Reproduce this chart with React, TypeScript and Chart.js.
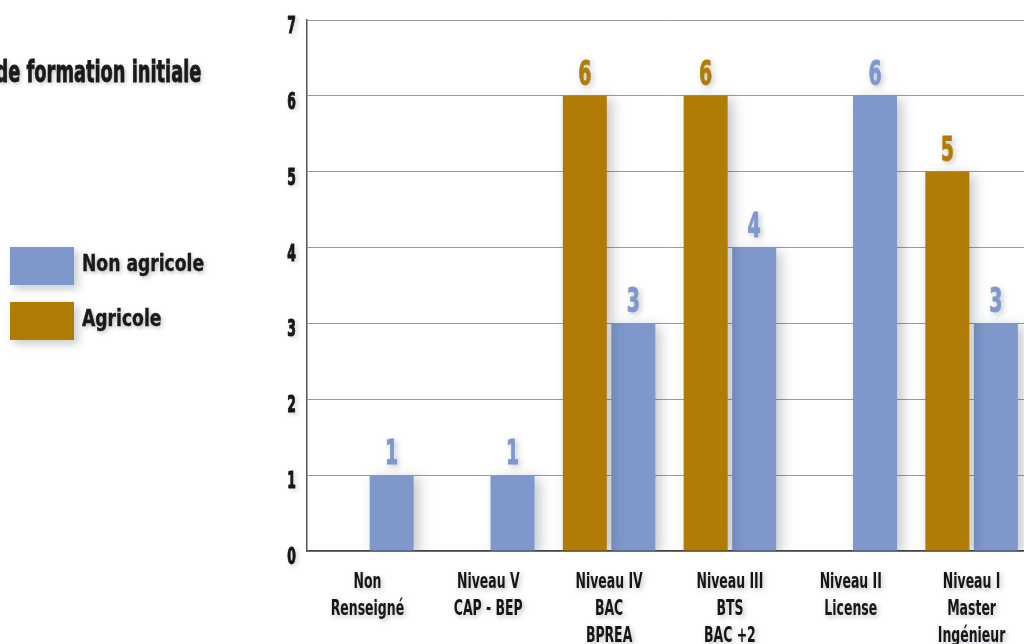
import React, { useEffect, useRef } from "react";
import { Chart, registerables } from "chart.js";

Chart.register(...registerables);

const categories: string[][] = [
  ["Non", "Renseigné"],
  ["Niveau V", "CAP - BEP"],
  ["Niveau IV", "BAC", "BPREA"],
  ["Niveau III", "BTS", "BAC +2"],
  ["Niveau II", "License"],
  ["Niveau I", "Master", "Ingénieur"],
];
const agricole: number[] = [0, 0, 6, 6, 0, 5];
const nonAgricole: number[] = [1, 1, 3, 4, 6, 3];
const yTicks: number[] = [0, 1, 2, 3, 4, 5, 6, 7];

const BLUE = "#7f98cb";
const GOLD = "#b07c06";
const FONT = "'DejaVu Sans Condensed', 'DejaVu Sans', sans-serif";

function squeezeText(ctx: CanvasRenderingContext2D, text: string, x: number, y: number, sx: number, stroke = 0) {
  ctx.save();
  ctx.translate(x, y);
  ctx.scale(sx, 1);
  ctx.fillText(text, 0, 0);
  if (stroke > 0) {
    ctx.shadowColor = "transparent";
    ctx.lineWidth = stroke;
    ctx.lineJoin = "round";
    ctx.strokeStyle = ctx.fillStyle as string;
    ctx.strokeText(text, 0, 0);
  }
  ctx.restore();
}

const barExtras = {
  id: "barExtras",
  beforeDatasetsDraw(chart: any) {
    const ctx = chart.ctx;
    ctx.save();
    ctx.shadowColor = "rgba(40,50,70,0.28)";
    ctx.shadowBlur = 12;
    ctx.shadowOffsetX = 5;
    ctx.shadowOffsetY = 3;
  },
  afterDatasetsDraw(chart: any) {
    const ctx: CanvasRenderingContext2D = chart.ctx;
    ctx.restore();
    ctx.save();
    ctx.font = `bold 34px ${FONT}`;
    ctx.textAlign = "center";
    ctx.textBaseline = "alphabetic";
    ctx.shadowColor = "rgba(40,50,70,0.35)";
    ctx.shadowBlur = 6;
    ctx.shadowOffsetX = 2;
    ctx.shadowOffsetY = 2;
    chart.data.datasets.forEach((ds: any, i: number) => {
      const meta = chart.getDatasetMeta(i);
      meta.data.forEach((el: any, j: number) => {
        const v = ds.data[j];
        if (!v) return;
        ctx.fillStyle = ds.backgroundColor;
        squeezeText(ctx, String(v), el.x, el.y - 11, 0.62, 0.8);
      });
    });
    ctx.restore();
  },
  afterDraw(chart: any) {
    const ctx: CanvasRenderingContext2D = chart.ctx;
    const xs = chart.scales.x;
    const ys = chart.scales.y;
    ctx.save();
    ctx.fillStyle = "#161616";
    ctx.shadowColor = "rgba(40,50,70,0.3)";
    ctx.shadowBlur = 5;
    ctx.shadowOffsetX = 2;
    ctx.shadowOffsetY = 2;
    ctx.textBaseline = "alphabetic";
    // y tick labels
    ctx.font = `bold 23px ${FONT}`;
    ctx.textAlign = "right";
    yTicks.forEach((v) => {
      squeezeText(ctx, String(v), ys.left + ys.width - 11, ys.getPixelForValue(v) + 13, 0.6, 1);
    });
    // x tick labels
    ctx.font = `bold 21px ${FONT}`;
    ctx.textAlign = "center";
    categories.forEach((lines, i) => {
      const cx = xs.getPixelForTick(i);
      lines.forEach((line, k) => {
        squeezeText(ctx, line, cx, xs.top + 37 + k * 27, 0.66, 0);
      });
    });
    ctx.restore();
  },
};

export default function App() {
  const ref = useRef<HTMLCanvasElement>(null);
  useEffect(() => {
    document.body.style.margin = "0";
    document.body.style.overflow = "hidden";
    const chart = new Chart(ref.current!, {
      type: "bar",
      data: {
        labels: categories,
        datasets: [
          { label: "Agricole", data: agricole, backgroundColor: GOLD, categoryPercentage: 0.803, barPercentage: 0.907 },
          { label: "Non agricole", data: nonAgricole, backgroundColor: BLUE, categoryPercentage: 0.803, barPercentage: 0.907 },
        ],
      },
      options: {
        responsive: false,
        animation: false,
        layout: { padding: { top: 20, left: 0, right: 0, bottom: 0 } },
        plugins: { legend: { display: false }, tooltip: { enabled: false } },
        scales: {
          x: {
            afterFit(scale: any) {
              scale.height = 93;
            },
            grid: { display: false },
            border: { display: true, color: "#444", width: 1.5 },
            ticks: { display: false },
          },
          y: {
            min: 0,
            max: 7,
            afterFit(scale: any) {
              scale.width = 307;
            },
            afterBuildTicks(scale: any) {
              scale.ticks = yTicks.map((v) => ({ value: v }));
            },
            grid: { color: "#9a9a9a", lineWidth: 1, drawTicks: false },
            border: { display: true, color: "#555", width: 1.5 },
            ticks: { display: false },
          },
        },
      },
      plugins: [barExtras],
    });
    return () => chart.destroy();
  }, []);

  const legendText: React.CSSProperties = {
    position: "absolute",
    left: 82,
    fontFamily: FONT,
    fontWeight: "bold",
    fontSize: 23,
    color: "#1a1a1a",
    textShadow: "2px 2px 5px rgba(40,50,70,0.35)",
    whiteSpace: "nowrap",
    transform: "scaleX(0.83)",
    transformOrigin: "left center",
    WebkitTextStroke: "0.4px #1a1a1a",
  };
  const box: React.CSSProperties = {
    position: "absolute",
    left: 10,
    width: 64,
    height: 38,
    boxShadow: "4px 4px 8px rgba(40,50,70,0.25)",
  };

  return (
    <div style={{ position: "fixed", left: 0, top: 0, width: 1024, height: 644, overflow: "hidden", background: "#fff" }}>
      <canvas ref={ref} width={1032} height={644} style={{ position: "absolute", left: 0, top: 0 }} />
      <div
        style={{
          position: "absolute",
          right: 1024 - 201,
          top: 54,
          fontFamily: FONT,
          fontWeight: "bold",
          fontSize: 30,
          color: "#1a1a1a",
          whiteSpace: "nowrap",
          textShadow: "2px 2px 5px rgba(40,50,70,0.3)",
          transform: "scaleX(0.66)",
          transformOrigin: "right center",
          WebkitTextStroke: "0.8px #1a1a1a",
        }}
      >
        Niveau de formation initiale
      </div>
      <div style={{ ...box, top: 247, background: BLUE }} />
      <div style={{ ...legendText, top: 250 }}>Non agricole</div>
      <div style={{ ...box, top: 302, background: GOLD }} />
      <div style={{ ...legendText, top: 305 }}>Agricole</div>
    </div>
  );
}
